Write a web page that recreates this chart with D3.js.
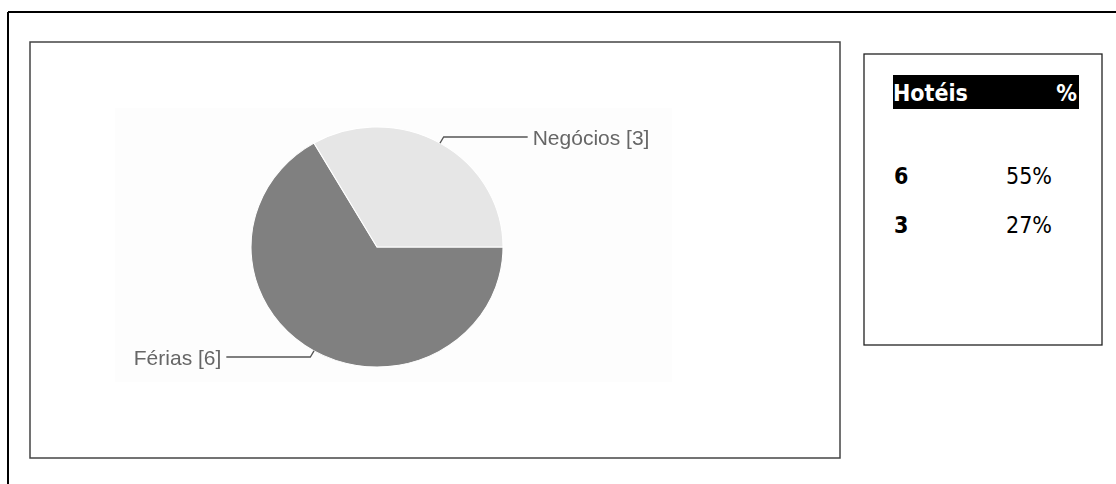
<!DOCTYPE html>
<html>
<head>
<meta charset="utf-8">
<script src="https://cdn.jsdelivr.net/npm/d3@7"></script>
<style>
  html, body { margin: 0; padding: 0; background: #fff; }
  svg { display: block; }
</style>
</head>
<body>
<script>
// Trip purpose of hotel guests
const categories = ["Férias", "Negócios"];
const counts = [6, 3];

// Summary table
const tableHeader = ["Hotéis", "%"];
const tableCounts = [6, 3];
const tablePercents = ["55%", "27%"];

const W = 1116, H = 484;
const svg = d3.select("body").append("svg")
  .attr("width", W).attr("height", H);

// Page border (top and left edges)
svg.append("line").attr("x1", 8).attr("y1", 12).attr("x2", W).attr("y2", 12)
  .attr("stroke", "#000").attr("stroke-width", 2);
svg.append("line").attr("x1", 8).attr("y1", 12).attr("x2", 8).attr("y2", H)
  .attr("stroke", "#000").attr("stroke-width", 2);

// Chart frame
svg.append("rect").attr("x", 30).attr("y", 42).attr("width", 810).attr("height", 416)
  .attr("fill", "#fff").attr("stroke", "#444").attr("stroke-width", 1.5);

// Soft filter for the embedded chart image
const defs = svg.append("defs");
defs.append("filter").attr("id", "soft")
  .attr("x", "-5%").attr("y", "-5%").attr("width", "110%").attr("height", "110%")
  .append("feGaussianBlur").attr("stdDeviation", 0.6);

const chart = svg.append("g").attr("filter", "url(#soft)");

// Faint plot background
chart.append("rect").attr("x", 115).attr("y", 108).attr("width", 557).attr("height", 274)
  .attr("fill", "#fdfdfd");

const cx = 377, cy = 247, r = 120, sx = 1.05;
const colors = d3.scaleOrdinal().domain(categories).range(["#808080", "#e6e6e6"]);

const pie = d3.pie().sort(null).startAngle(Math.PI / 2).endAngle(Math.PI / 2 + 2 * Math.PI);
const arcs = pie(counts);
const arc = d3.arc().innerRadius(0).outerRadius(r);

const pg = chart.append("g").attr("transform", `translate(${cx},${cy}) scale(${sx},1)`);
pg.selectAll("path").data(arcs).join("path")
  .attr("d", arc)
  .attr("fill", (d, i) => colors(categories[i]))
  .attr("stroke", "#fff").attr("stroke-width", 1);

// Leader lines and labels
const labelLen = 84;
arcs.forEach((d, i) => {
  const a = (d.startAngle + d.endAngle) / 2;
  const ex = cx + sx * r * Math.sin(a), ey = cy - r * Math.cos(a);
  const kx = cx + sx * (r + 7) * Math.sin(a), ky = cy - (r + 7) * Math.cos(a);
  const right = Math.sin(a) >= 0;
  const hx = right ? kx + labelLen : kx - labelLen;
  chart.append("path")
    .attr("d", `M${ex},${ey}L${kx},${ky}L${hx},${ky}`)
    .attr("fill", "none").attr("stroke", "#555").attr("stroke-width", 1.3);
  chart.append("text")
    .attr("x", right ? hx + 5 : hx - 5).attr("y", ky + 8)
    .attr("text-anchor", right ? "start" : "end")
    .attr("font-family", "'Liberation Sans', Arial, sans-serif")
    .attr("font-size", 21).attr("fill", "#666")
    .text(`${categories[i]} [${counts[i]}]`);
});

// Summary table box
svg.append("rect").attr("x", 864).attr("y", 54).attr("width", 238).attr("height", 291)
  .attr("fill", "#fff").attr("stroke", "#222").attr("stroke-width", 1.3);

const tf = "'DejaVu Sans Condensed', 'DejaVu Sans', sans-serif";
svg.append("rect").attr("x", 893).attr("y", 75).attr("width", 186).attr("height", 34)
  .attr("fill", "#000");
svg.append("text").attr("x", 893).attr("y", 101)
  .attr("font-family", tf).attr("font-stretch", "condensed").attr("font-weight", "bold")
  .attr("font-size", 23).attr("fill", "#fff").text(tableHeader[0]);
svg.append("text").attr("x", 1077).attr("y", 101).attr("text-anchor", "end")
  .attr("font-family", tf).attr("font-stretch", "condensed").attr("font-weight", "bold")
  .attr("font-size", 23).attr("fill", "#fff").text(tableHeader[1]);

const rowY = d3.scalePoint().domain(d3.range(tableCounts.length)).range([184, 233]);
tableCounts.forEach((v, i) => {
  svg.append("text").attr("x", 894).attr("y", rowY(i))
    .attr("font-family", tf).attr("font-stretch", "condensed").attr("font-weight", "bold")
    .attr("font-size", 23).attr("fill", "#000").text(v);
  svg.append("text").attr("x", 1052).attr("y", rowY(i)).attr("text-anchor", "end")
    .attr("font-family", tf).attr("font-stretch", "condensed")
    .attr("font-size", 23).attr("fill", "#000").text(tablePercents[i]);
});
</script>
</body>
</html>
